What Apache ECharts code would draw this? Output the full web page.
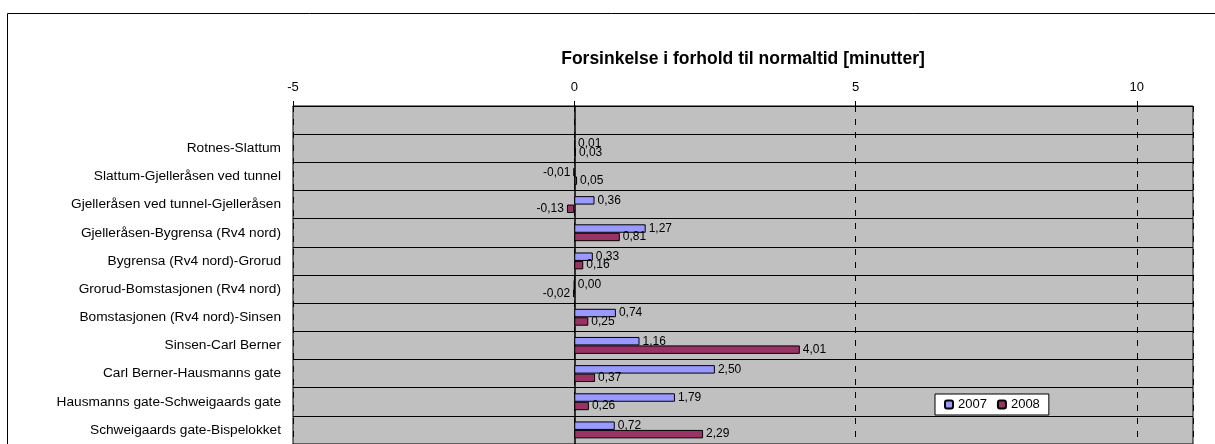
<!DOCTYPE html>
<html>
<head>
<meta charset="utf-8">
<script src="https://cdn.jsdelivr.net/npm/echarts@6/dist/echarts.min.js"></script>
<style>
  html, body { margin: 0; padding: 0; background: #fff; }
  #chart { width: 1215px; height: 444px; }
</style>
</head>
<body>
<div id="chart"></div>
<script>
// strekninger (topp til bunn)
const categories = [
  "Rotnes-Slattum",
  "Slattum-Gjelleråsen ved tunnel",
  "Gjelleråsen ved tunnel-Gjelleråsen",
  "Gjelleråsen-Bygrensa (Rv4 nord)",
  "Bygrensa (Rv4 nord)-Grorud",
  "Grorud-Bomstasjonen (Rv4 nord)",
  "Bomstasjonen (Rv4 nord)-Sinsen",
  "Sinsen-Carl Berner",
  "Carl Berner-Hausmanns gate",
  "Hausmanns gate-Schweigaards gate",
  "Schweigaards gate-Bispelokket"
];
const values2007 = [0.01, -0.01, 0.36, 1.27, 0.33, 0.00, 0.74, 1.16, 2.50, 1.79, 0.72];
const values2008 = [0.03, 0.05, -0.13, 0.81, 0.16, -0.02, 0.25, 4.01, 0.37, 0.26, 2.29];
const xTicks = [-5, 0, 5, 10];

const FONT = "Liberation Sans, Arial, sans-serif";

// tom rad øverst, som i originalen
const yCats = [""].concat(categories);

function fmt(v) {
  return v.toFixed(2).replace(".", ",");
}

function toData(arr) {
  return [null].concat(arr.map(function (v) {
    return { value: v, label: { position: v < 0 ? "left" : "right" } };
  }));
}

function barSeries(name, arr, color) {
  return {
    name: name,
    type: "bar",
    barGap: "0%",
    barCategoryGap: "40%",
    itemStyle: { color: color, borderColor: "#000", borderWidth: 1 },
    label: {
      show: true,
      distance: 3,
      color: "#000",
      fontFamily: FONT,
      fontSize: 12,
      formatter: function (p) { return fmt(p.value); }
    },
    emphasis: { disabled: true },
    data: toData(arr)
  };
}

const chart = echarts.init(document.getElementById("chart"));

chart.setOption({
  animation: false,
  backgroundColor: "#fff",
  textStyle: { fontFamily: FONT },
  graphic: [{
    type: "rect",
    z: -10,
    shape: { x: 7.5, y: 13.5, width: 1300, height: 600 },
    style: { fill: null, stroke: "#000", lineWidth: 1 }
  }],
  legend: {
    left: 935,
    top: 394,
    orient: "horizontal",
    backgroundColor: "#fff",
    borderColor: "#000",
    borderWidth: 1,
    padding: [4, 9, 4, 9],
    itemWidth: 8,
    itemHeight: 8,
    itemGap: 10,
    textStyle: { fontFamily: FONT, fontSize: 13, color: "#000" },
    data: ["2007", "2008"]
  },
  grid: {
    left: 293,
    right: 22,
    top: 106,
    bottom: -5,
    show: true,
    backgroundColor: "#c0c0c0",
    borderColor: "#000",
    borderWidth: 1
  },
  xAxis: {
    type: "value",
    position: "top",
    min: -5,
    max: 11,
    interval: 5,
    name: "Forsinkelse i forhold til normaltid [minutter]",
    nameLocation: "middle",
    nameGap: 38,
    nameTextStyle: { fontFamily: FONT, fontSize: 17.5, fontWeight: "bold", color: "#000" },
    axisLine: { show: true, onZero: false, lineStyle: { color: "#000", width: 1 } },
    axisTick: { show: true, length: 5, lineStyle: { color: "#000" } },
    axisLabel: {
      color: "#000",
      fontSize: 13,
      margin: 12,
      showMaxLabel: false,
      formatter: function (v) { return xTicks.indexOf(v) >= 0 ? String(v) : ""; }
    },
    splitLine: { show: true, lineStyle: { color: "#000", type: [6, 7], width: 1 } }
  },
  yAxis: [{
    type: "category",
    inverse: true,
    data: yCats,
    axisLine: { show: false, onZero: false },
    axisTick: { show: false },
    axisLabel: { color: "#000", fontSize: 13.7, margin: 12 },
    splitLine: { show: true, lineStyle: { color: "#000", width: 1 } }
  }, {
    // aksen gjennom null
    type: "category",
    inverse: true,
    position: "right",
    data: yCats,
    axisLine: { show: true, onZero: true, lineStyle: { color: "#000", width: 1.5 } },
    axisTick: { show: true, length: 4, lineStyle: { color: "#000" } },
    axisLabel: { show: false },
    splitLine: { show: false }
  }],
  series: [
    barSeries("2007", values2007, "#9999ff"),
    barSeries("2008", values2008, "#993366")
  ]
});
</script>
</body>
</html>
